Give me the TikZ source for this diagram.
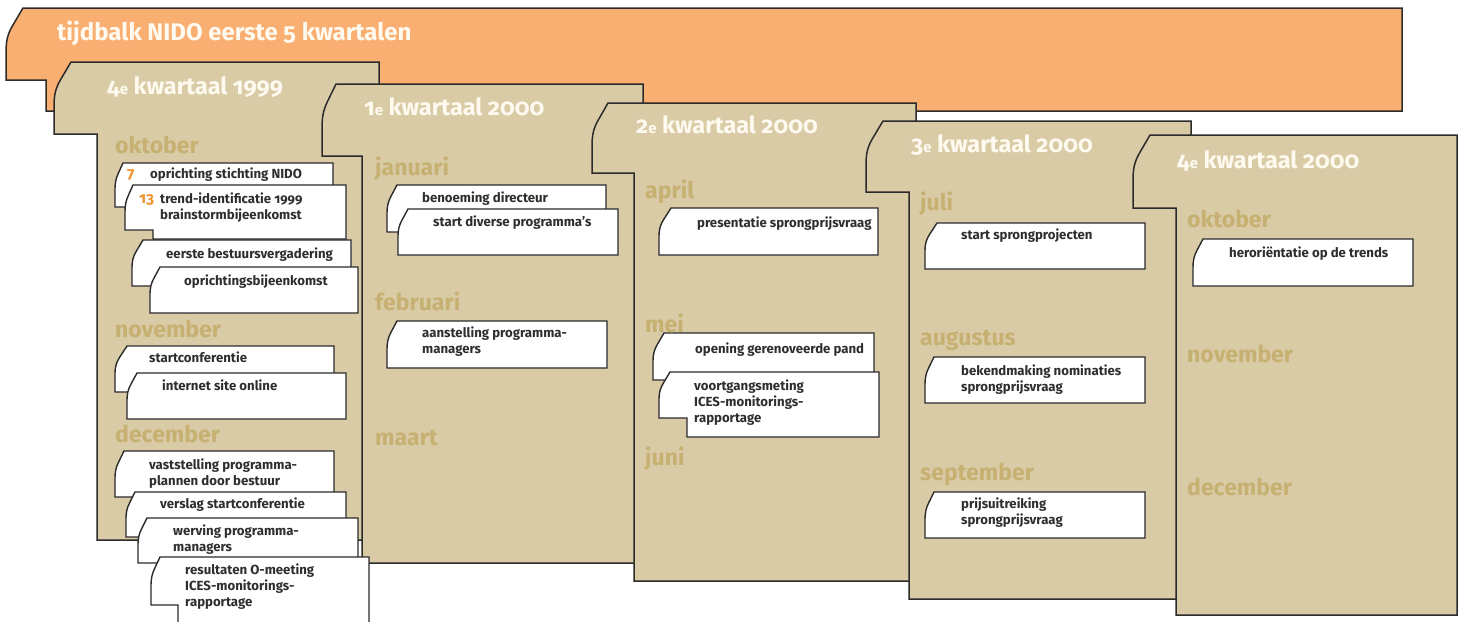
\documentclass[tikz,border=0pt]{standalone}
\usepackage{fontspec}
\setmainfont{Fira Sans}[Numbers=OldStyle]
\definecolor{orangefill}{HTML}{F9AF72}
\definecolor{tanfill}{HTML}{D9CBA5}
\definecolor{monthcol}{HTML}{C6B072}
\definecolor{titlecol}{HTML}{FFFAF0}
\definecolor{numcol}{HTML}{F0922E}
\definecolor{cardtextcol}{HTML}{2E2E2E}
\definecolor{edgecol}{HTML}{2B2B2B}
\newcommand\tabshape[8]{%
  \draw[#1] (#2,#3) -- (#4,#3) -- (#4,#5) -- (#8,#5) -- (#8,#7) -- ({#2-#6},#7)
    -- ({#2-#6},{#3+0.62*(#7-#3)})
    .. controls ({#2-#6},{#3+0.45*(#7-#3)}) and ({#2-0.9*#6},{#3+0.36*(#7-#3)}) ..
    ({#2-0.6*#6},{#3+0.24*(#7-#3)}) -- cycle;}
\newcommand\sfe{{\fontsize{15}{15}\selectfont e}}
\begin{document}
\begin{tikzpicture}[x=1pt,y=-1pt,
  orangebox/.style={fill=orangefill,draw=edgecol,line width=1.5pt},
  tanbox/.style={fill=tanfill,draw=edgecol,line width=1.5pt},
  cardbox/.style={fill=white,draw=edgecol,line width=1.4pt},
  headtext/.style={anchor=base west,inner sep=0pt,text=titlecol,font=\fontsize{24}{28}\selectfont\bfseries},
  qtext/.style={anchor=base west,inner sep=0pt,text=titlecol,font=\fontsize{23.5}{27}\selectfont\bfseries},
  monthtext/.style={anchor=base west,inner sep=0pt,text=monthcol,font=\fontsize{23}{26}\selectfont\bfseries},
  cardtext/.style={anchor=base west,inner sep=0pt,text=cardtextcol,align=left,font=\fontsize{13.2}{16}\selectfont\bfseries},
  numtext/.style={anchor=base west,inner sep=0pt,text=numcol,font=\fontsize{15.5}{16}\selectfont\bfseries}]
\useasboundingbox (0,0) rectangle (1464,621);
% header bar
\tabshape{orangebox}{23}{8}{1402}{111}{17}{80}{46}
% quarter columns
\tabshape{tanbox}{71}{62}{379}{540}{17}{134}{97}
\tabshape{tanbox}{336}{84}{643}{563}{14}{156}{362}
\tabshape{tanbox}{608}{103}{916}{581}{16}{173}{634}
\tabshape{tanbox}{883}{121}{1191}{599}{17}{192}{909}
\tabshape{tanbox}{1150}{135}{1457}{615}{17}{208}{1176}
% cards column 1
\tabshape{cardbox}{123}{163}{333}{207}{8}{207}{143}
\tabshape{cardbox}{133}{185}{346}{239}{8}{230}{153}
\tabshape{cardbox}{143}{240}{351}{286}{11}{286}{160}
\tabshape{cardbox}{160}{267}{358}{313}{10}{313}{178}
\tabshape{cardbox}{127}{346}{334}{392}{12}{392}{145}
\tabshape{cardbox}{137}{373}{346}{419}{10}{419}{153}
\tabshape{cardbox}{124}{451}{334}{497}{9}{497}{142}
\tabshape{cardbox}{135}{492}{346}{537}{9}{537}{153}
\tabshape{cardbox}{147}{518}{358}{563}{9}{563}{165}
\tabshape{cardbox}{160}{557}{369}{640}{9}{605}{178}
% cards column 2
\tabshape{cardbox}{397}{185}{606}{232}{10}{232}{415}
\tabshape{cardbox}{408}{209}{618}{255}{10}{255}{425}
\tabshape{cardbox}{397}{321}{607}{368}{10}{368}{415}
% cards column 3
\tabshape{cardbox}{671}{208}{878}{255}{12}{255}{687}
\tabshape{cardbox}{664}{333}{874}{380}{11}{380}{682}
\tabshape{cardbox}{670}{372}{879}{437}{11}{418}{687}
% cards column 4
\tabshape{cardbox}{937}{223}{1145}{269}{12}{269}{955}
\tabshape{cardbox}{934}{357}{1145}{403}{9}{403}{952}
\tabshape{cardbox}{934}{492}{1145}{538}{9}{538}{952}
% cards column 5
\tabshape{cardbox}{1203}{239}{1413}{286}{10}{286}{1220}
% titles
\node[headtext] (head) at (57,40) {tijdbalk NIDO eerste 5 kwartalen};
\node[qtext] (q1) at (107,94) {4\sfe{} kwartaal 1999};
\node[qtext] (q2) at (364,115) {1\sfe{} kwartaal 2000};
\node[qtext] (q3) at (636,133) {2\sfe{} kwartaal 2000};
\node[qtext] (q4) at (911,152) {3\sfe{} kwartaal 2000};
\node[qtext] (q5) at (1177,168) {4\sfe{} kwartaal 2000};
% months
\node[monthtext] (m1a) at (115,153) {oktober};
\node[monthtext] (m1b) at (115,337) {november};
\node[monthtext] (m1c) at (115,442) {december};
\node[monthtext] (m2a) at (375,175) {januari};
\node[monthtext] (m2b) at (375,310) {februari};
\node[monthtext] (m2c) at (375,445) {maart};
\node[monthtext] (m3a) at (645,198) {april};
\node[monthtext] (m3b) at (645,332) {mei};
\node[monthtext] (m3c) at (645,465) {juni};
\node[monthtext] (m4a) at (920,210) {juli};
\node[monthtext] (m4b) at (920,345) {augustus};
\node[monthtext] (m4c) at (920,480) {september};
\node[monthtext] (m5a) at (1187,227) {oktober};
\node[monthtext] (m5b) at (1187,362) {november};
\node[monthtext] (m5c) at (1187,495) {december};
% card texts (multi-line nodes are placed at the baseline of their last line)
\node[numtext] (n7) at (127,178) {7};
\node[cardtext] (t1) at (150,178) {oprichting stichting NIDO};
\node[numtext] (n13) at (139,203) {13};
\node[cardtext] (t2) at (160,219) {trend-identificatie 1999\\brainstormbijeenkomst};
\node[cardtext] (t3) at (166,258) {eerste bestuursvergadering};
\node[cardtext] (t4) at (184,285) {oprichtingsbijeenkomst};
\node[cardtext] (t5) at (149,362) {startconferentie};
\node[cardtext] (t6) at (162,390) {internet site online};
\node[cardtext] (t7) at (149,485) {vaststelling programma-\\plannen door bestuur};
\node[cardtext] (t8) at (160,508) {verslag startconferentie};
\node[cardtext] (t9) at (173,551) {werving programma-\\managers};
\node[cardtext] (t10) at (185,606) {resultaten O-meeting\\ICES-monitorings-\\rapportage};
\node[cardtext] (t11) at (422,202) {benoeming directeur};
\node[cardtext] (t12) at (433,226) {start diverse programma's};
\node[cardtext] (t13) at (422,353) {aanstelling programma-\\managers};
\node[cardtext] (t14) at (697,227) {presentatie sprongprijsvraag};
\node[cardtext] (t15) at (695,353) {opening gerenoveerde pand};
\node[cardtext] (t16) at (694,422) {voortgangsmeting\\ICES-monitorings-\\rapportage};
\node[cardtext] (t17) at (961,239) {start sprongprojecten};
\node[cardtext] (t18) at (961,391) {bekendmaking nominaties\\sprongprijsvraag};
\node[cardtext] (t19) at (961,524) {prijsuitreiking\\sprongprijsvraag};
\node[cardtext] (t20) at (1229,257) {heroriëntatie op de trends};
\end{tikzpicture}
\end{document}
